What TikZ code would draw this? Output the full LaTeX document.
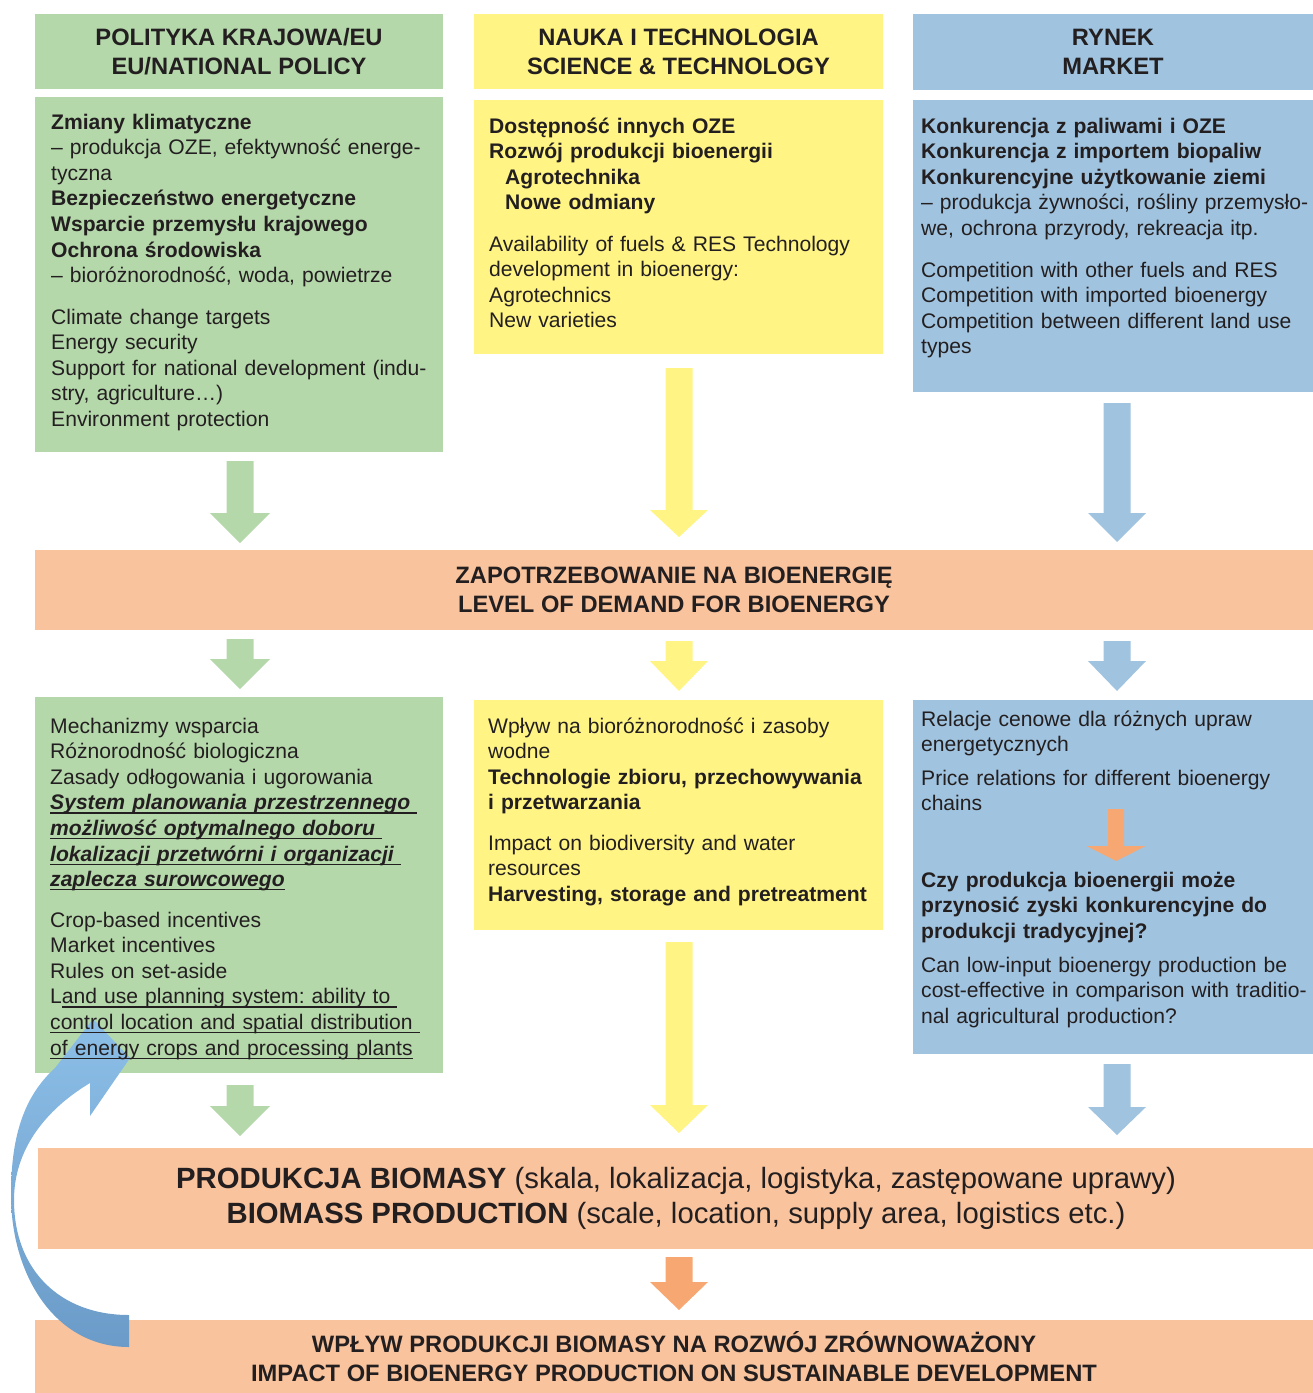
\documentclass[tikz,border=0pt]{standalone}
\usepackage{fontspec}
\setmainfont{Liberation Sans}

\definecolor{ink}{HTML}{231F20}
\definecolor{polgreen}{HTML}{B5D8AB}
\definecolor{sciyellow}{HTML}{FFF484}
\definecolor{mktblue}{HTML}{A0C3DF}
\definecolor{bandorange}{HTML}{F9C39D}
\definecolor{tiporange}{HTML}{F7A872}
\definecolor{looptop}{HTML}{8CBFE8}
\definecolor{loopbot}{HTML}{6B9BC8}

% underline drawn at a fixed depth, crossing descenders
\newsavebox\ulinebox
\newcommand\ulined[1]{\leavevmode\sbox\ulinebox{#1}\rlap{\rule[-3.7pt]{\wd\ulinebox}{1.2pt}}\usebox\ulinebox}

\tikzset{
  panel/.style={draw=none, inner sep=0pt, outer sep=0pt, align=center,
    font=\fontsize{23.7}{29}\selectfont\bfseries\frenchspacing, text=ink},
  body/.style={anchor=base west, inner sep=0pt, text width=460pt, align=left,
    font=\fontsize{21.1}{25.6}\selectfont\frenchspacing, text=ink},
  bigband/.style={panel, font=\fontsize{29.3}{35}\selectfont\bfseries\frenchspacing},
}

% filled rectangle node: name, x1, y1, x2, y2, colour, text
\newcommand\panelat[7]{%
  \node[panel, fill=#6, minimum width={#4-#2}, minimum height={#5-#3}]
    (#1) at ({(#2+#4)/2},{(#3+#5)/2}) {#7};}

% block arrow pointing down: colour, centre x, top, head start, tip, shaft half width, head half width
\newcommand\blockdown[7]{%
  \fill[#1] ({#2-#6},#3) -- ({#2+#6},#3) -- ({#2+#6},#4) -- ({#2+#7},#4)
    -- (#2,#5) -- ({#2-#7},#4) -- ({#2-#6},#4) -- cycle;}

\begin{document}
\begin{tikzpicture}[x=1pt, y=-1pt]
\useasboundingbox (0,0) rectangle (1313,1393);

% column headers
\panelat{polhead}{35}{14}{443}{89}{polgreen}{POLITYKA KRAJOWA/EU\\EU/NATIONAL POLICY}
\panelat{scihead}{474}{14}{883}{89}{sciyellow}{NAUKA I TECHNOLOGIA\\SCIENCE \& TECHNOLOGY}
\panelat{mkthead}{913}{14}{1313}{90}{mktblue}{RYNEK\\MARKET}

% first row of content panels
\panelat{pol1}{35}{97}{443}{452}{polgreen}{}
\panelat{sci1}{474}{100}{883}{354}{sciyellow}{}
\panelat{mkt1}{913}{100}{1313}{392}{mktblue}{}

% demand band
\panelat{demand}{35}{550}{1313}{630}{bandorange}{ZAPOTRZEBOWANIE NA BIOENERGIĘ\\LEVEL OF DEMAND FOR BIOENERGY}

% second row of content panels
\panelat{pol2}{35}{697}{443}{1073}{polgreen}{}
\panelat{sci2}{474}{700}{883}{930}{sciyellow}{}
\panelat{mkt2}{913}{700}{1313}{1054}{mktblue}{}

% biomass production band
\node[bigband, fill=bandorange, minimum width=1276, minimum height=101]
  (biomass) at (676,1198.5)
  {PRODUKCJA BIOMASY \mdseries(skala, lokalizacja, logistyka, zastępowane uprawy)\\
   BIOMASS PRODUCTION \mdseries(scale, location, supply area, logistics etc.)};

% impact band
\panelat{impact}{35}{1320}{1313}{1393}{bandorange}{WPŁYW PRODUKCJI BIOMASY NA ROZWÓJ ZRÓWNOWAŻONY\\IMPACT OF BIOENERGY PRODUCTION ON SUSTAINABLE DEVELOPMENT}

% block arrows between rows
\blockdown{polgreen}{240}{461}{513}{543}{13.5}{30}
\blockdown{sciyellow}{679}{368}{510}{537}{13.5}{29}
\blockdown{mktblue}{1117}{403}{513}{542}{13.5}{29}

\blockdown{polgreen}{240}{639}{659}{689}{13.5}{30}
\blockdown{sciyellow}{679}{641}{661}{691}{13.5}{29}
\blockdown{mktblue}{1117}{641}{661}{691}{13.5}{29}

\blockdown{polgreen}{240}{1085}{1106}{1136}{13.5}{30}
\blockdown{sciyellow}{679}{942}{1105}{1133}{13.5}{29}
\blockdown{mktblue}{1117}{1064}{1107}{1135}{13.5}{29}

\blockdown{tiporange}{679}{1257}{1282}{1310}{13.5}{29}
\blockdown{tiporange}{1116}{809}{846}{861}{8}{29.5}

% feedback loop from the impact band back to the policy panel
\shade[top color=looptop, bottom color=loopbot]
  (129,1347) .. controls (55,1347) and (11,1275) .. (11,1195)
  .. controls (11,1140) and (22,1098) .. (55,1068)
  -- (93,1019) -- (130,1058) -- (90,1116) -- (90,1083)
  .. controls (45,1110) and (14,1150) .. (14,1200)
  .. controls (14,1270) and (60,1315) .. (129,1315) -- cycle;

% policy texts
\node[body] (pol1a) at (51,129) {\textbf{Zmiany klimatyczne}\\
– produkcja OZE, efektywność energe-\\
tyczna\\
\textbf{Bezpieczeństwo energetyczne}\\
\textbf{Wsparcie przemysłu krajowego}\\
\textbf{Ochrona środowiska}\\
– bioróżnorodność, woda, powietrze};
\node[body] (pol1b) at (51,324) {Climate change targets\\
Energy security\\
Support for national development (indu-\\
stry, agriculture…)\\
Environment protection};

% science texts
\node[body] (sci1a) at (489,133) {\textbf{Dostępność innych OZE}\\
\textbf{Rozwój produkcji bioenergii}\\
\hspace*{16pt}\textbf{Agrotechnika}\\
\hspace*{16pt}\textbf{Nowe odmiany}};
\node[body] (sci1b) at (489,251) {Availability of fuels \& RES Technology\\
development in bioenergy:\\
Agrotechnics\\
New varieties};

% market texts
\node[body] (mkt1a) at (921,133) {\textbf{Konkurencja z paliwami i OZE}\\
\textbf{Konkurencja z importem biopaliw}\\
\textbf{Konkurencyjne użytkowanie ziemi}\\
– produkcja żywności, rośliny przemysło-\\
we, ochrona przyrody, rekreacja itp.};
\node[body] (mkt1b) at (921,277) {Competition with other fuels and RES\\
Competition with imported bioenergy\\
Competition between different land use\\
types};

% second row: policy instruments
\node[body] (pol2a) at (50,733) {Mechanizmy wsparcia\\
Różnorodność biologiczna\\
Zasady odłogowania i ugorowania\\
\ulined{\textbf{\textit{System planowania przestrzennego\ }}}\\
\ulined{\textbf{\textit{możliwość optymalnego doboru\ }}}\\
\ulined{\textbf{\textit{lokalizacji przetwórni i organizacji\ }}}\\
\ulined{\textbf{\textit{zaplecza surowcowego}}}};
\node[body] (pol2b) at (50,927) {Crop-based incentives\\
Market incentives\\
Rules on set-aside\\
L\ulined{and use planning system: ability to\ }\\
\ulined{control location and spatial distribution\ }\\
\ulined{of energy crops and processing plants}};

% second row: technology impacts
\node[body] (sci2a) at (488,733) {Wpływ na bioróżnorodność i zasoby\\
wodne\\
\textbf{Technologie zbioru, przechowywania}\\
\textbf{i przetwarzania}};
\node[body] (sci2b) at (488,850) {Impact on biodiversity and water\\
resources\\
\textbf{Harvesting, storage and pretreatment}};

% second row: market economics
\node[body] (mkt2a) at (921,726) {Relacje cenowe dla różnych upraw\\
energetycznych};
\node[body] (mkt2b) at (921,785) {Price relations for different bioenergy\\
chains};
\node[body] (mkt2c) at (921,887) {\textbf{Czy produkcja bioenergii może}\\
\textbf{przynosić zyski konkurencyjne do}\\
\textbf{produkcji tradycyjnej?}};
\node[body] (mkt2d) at (921,972) {Can low-input bioenergy production be\\
cost-effective in comparison with traditio-\\
nal agricultural production?};
\end{tikzpicture}
\end{document}
